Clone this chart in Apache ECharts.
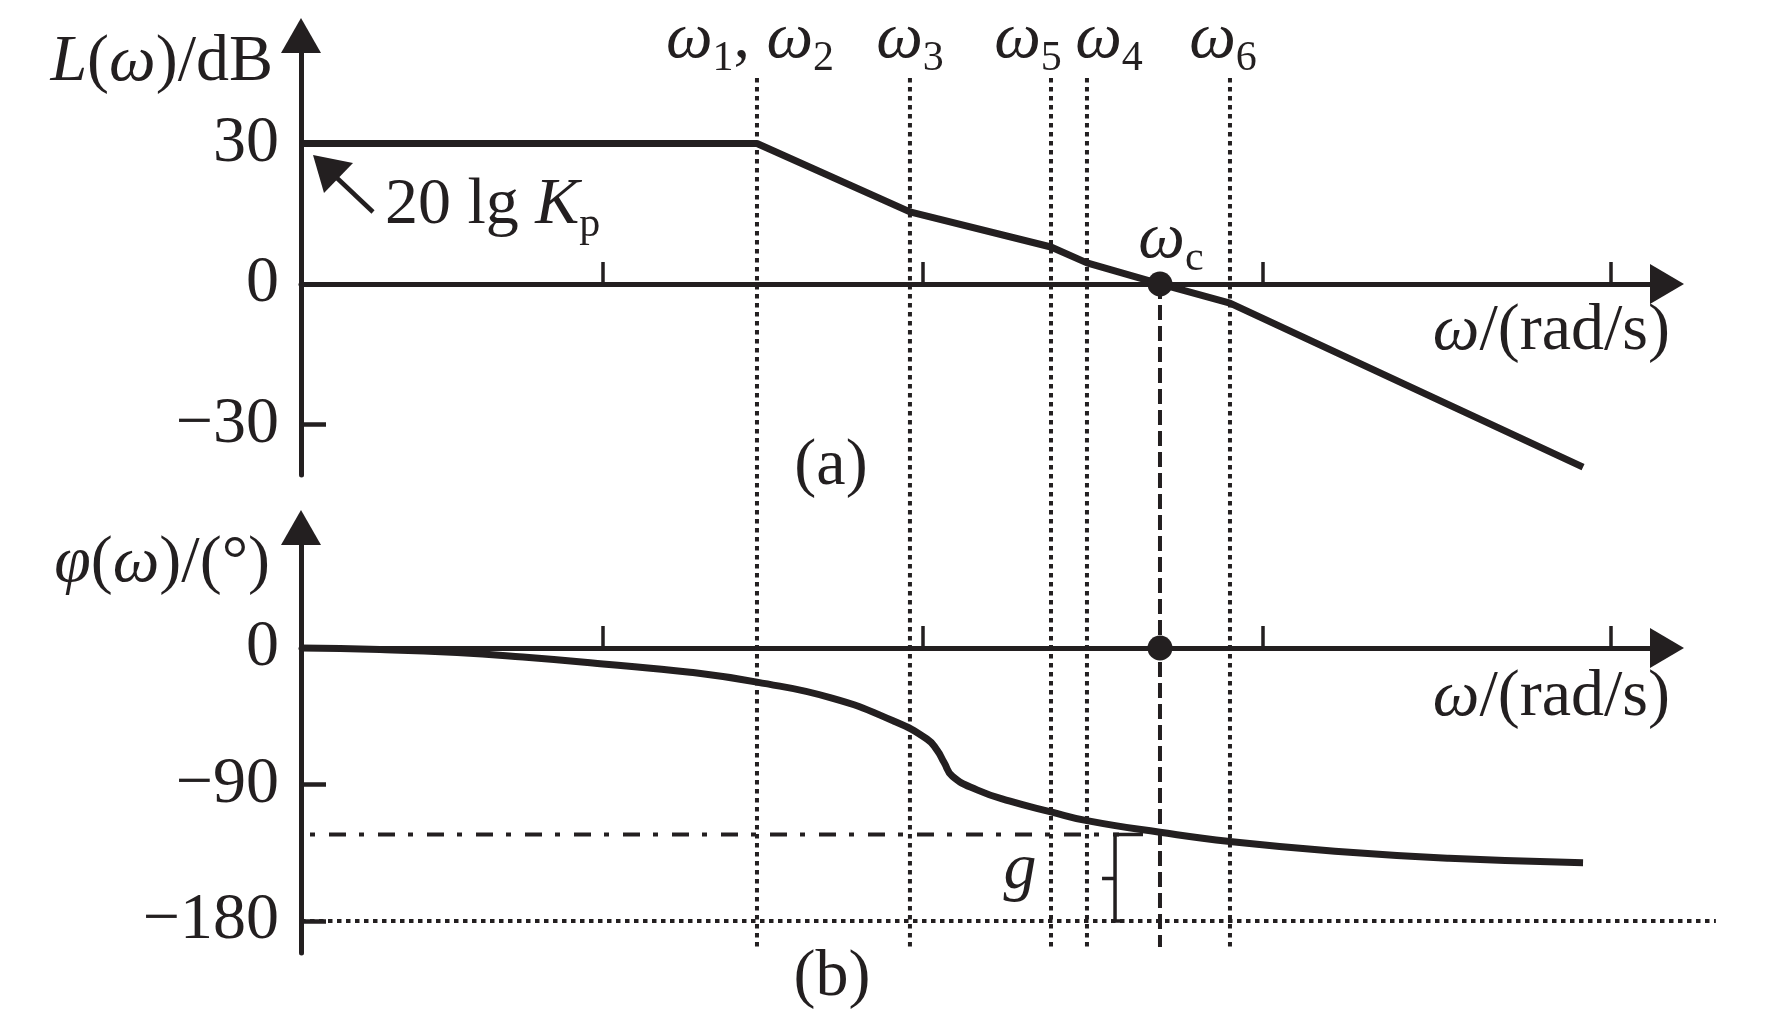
<!DOCTYPE html>
<html><head><meta charset="utf-8">
<script src="https://cdn.jsdelivr.net/npm/echarts@6/dist/echarts.min.js"></script>
<style>html,body{margin:0;padding:0;background:#fff}#c{width:1772px;height:1024px}</style>
</head><body><div id="c"></div>
<script>
// ---------- data (x in relative log-frequency units) ----------
const xTickValues = [21.84, 44.97, 69.56, 94.72];
const breakLabels = ['{w|ω}{s|1}{n|, }{w|ω}{s|2}', '{w|ω}{s|3}', '{w|ω}{s|5}', '{w|ω}{s|4}', '{w|ω}{s|6}'];
const breakX = [32.97, 44.03, 54.23, 56.83, 67.17];
const wcX = 62.11;
const magX = [0, 32.97, 44.03, 54.23, 56.83, 62.11, 67.17, 92.70];
const magDb = [30, 30, 15.4, 7.9, 4.5, 0, -4.1, -39.1];
const phaseX = [0, 5.71, 11.28, 16.05, 21.84, 28.13, 32.97, 38.39, 42.81, 45.26, 46.0, 46.5, 47.1, 48.88, 51.27, 54.23, 56.83, 62.11, 67.17, 74.76, 83.01, 92.70];
const phaseDeg = [0, -1, -3, -6, -10.5, -16, -22.5, -33, -48, -60, -67.5, -75.5, -84.5, -93.5, -101, -108, -113.8, -121.5, -127.6, -134, -138.6, -141.6];
const magTicks = [-30, 0, 30];
const phaseTicks = [-180, -90, 0];
const gmLineX = [0.65, 59.15];
const gmLevel = -123;
const refLineX = [0, 102.3];
const refLevel = -180;
const braceX = [60.88, 58.86, 58.86, 57.92, 58.86, 58.86, 59.29];
const braceY = [-123, -123, -152, -152, -152, -180, -180];

// ---------- style ----------
const INK = '#231f20';
const FONT = 'Liberation Serif';
const FS = 66, SFS = 42;
const labelOffsets = [[-7, -38], [0, -38], [-23, -38], [22, -38], [-7, -38]];
const rich = {
  w: {fontFamily: FONT, fontStyle: 'italic', fontSize: FS, lineHeight: FS, color: INK, verticalAlign: 'middle'},
  i: {fontFamily: FONT, fontStyle: 'italic', fontSize: FS, lineHeight: FS, color: INK, verticalAlign: 'middle'},
  n: {fontFamily: FONT, fontSize: FS, lineHeight: FS, color: INK, verticalAlign: 'middle'},
  s: {fontFamily: FONT, fontSize: SFS, lineHeight: SFS, color: INK, verticalAlign: 'middle', padding: [38, 0, 0, 0]}
};
const XMAX = 98.77;
const XMAX_WIDE = 102.31;

function xAxisDef(gi, show) {
  return {
    gridIndex: gi, type: 'value', min: 0, max: XMAX, show: show,
    splitLine: {show: false},
    axisLine: {show: true, onZero: true, symbol: ['none', 'triangle'], symbolSize: [40, 34],
      lineStyle: {color: INK, width: 5}},
    axisTick: {show: true, inside: true, length: 22, customValues: xTickValues,
      lineStyle: {color: INK, width: 3.5}},
    axisLabel: {show: false}
  };
}
function yAxisDef(gi, min, max, ticks) {
  return {
    gridIndex: gi, type: 'value', min: min, max: max,
    splitLine: {show: false},
    axisLine: {show: true, onZero: false, symbol: ['none', 'triangle'], symbolSize: [40, 35],
      lineStyle: {color: INK, width: 5}},
    axisTick: {show: true, inside: true, length: 25, customValues: ticks,
      lineStyle: {color: INK, width: 4.5}},
    axisLabel: {show: true, customValues: ticks, margin: 22, color: INK,
      fontFamily: FONT, fontSize: FS,
      formatter: v => String(v).replace('-', '\u2212')}
  };
}
const zip = (a, b) => a.map((v, i) => [v, b[i]]);

const series = [];
// vertical dotted lines at break frequencies (overlay grid)
breakX.forEach((x) => {
  series.push({type: 'line', xAxisIndex: 2, yAxisIndex: 2, data: [[x, 0], [x, 1]],
    symbol: 'none', z: 1, silent: true,
    lineStyle: {color: INK, width: 4, type: [4.5, 4.5]}});
});
// labels of break frequencies
series.push({type: 'scatter', xAxisIndex: 2, yAxisIndex: 2, symbolSize: 0, z: 5,
  itemStyle: {opacity: 1},
  data: breakX.map((x, i) => ({value: [x, 0],
    label: {show: true, position: 'inside', offset: labelOffsets[i], color: INK, formatter: breakLabels[i], rich: rich}}))
});
// crossover dashed line
series.push({type: 'line', xAxisIndex: 2, yAxisIndex: 2, data: [[wcX, 0.237], [wcX, 1]],
  symbol: 'none', z: 1, lineStyle: {color: INK, width: 4, type: [15, 6]}});
// magnitude
series.push({type: 'line', xAxisIndex: 0, yAxisIndex: 0, data: zip(magX, magDb), symbol: 'none', z: 3,
  lineStyle: {color: INK, width: 7}});
series.push({type: 'scatter', xAxisIndex: 0, yAxisIndex: 0, data: [[wcX, 0]], symbolSize: 25, z: 4,
  itemStyle: {color: INK, opacity: 1},
  label: {show: true, position: 'inside', offset: [11, -44], color: INK, formatter: '{w|ω}{s|c}', rich: rich}});
// phase
series.push({type: 'line', xAxisIndex: 1, yAxisIndex: 1, data: zip(phaseX, phaseDeg), symbol: 'none', z: 3,
  smooth: 0.5, lineStyle: {color: INK, width: 7}});
series.push({type: 'scatter', xAxisIndex: 1, yAxisIndex: 1, data: [[wcX, 0]], symbolSize: 25, z: 4,
  itemStyle: {color: INK, opacity: 1}});
series.push({type: 'line', xAxisIndex: 1, yAxisIndex: 1, data: gmLineX.map(x => [x, gmLevel]), symbol: 'none', z: 2,
  lineStyle: {color: INK, width: 4, type: [5, 14, 17, 13]}});
series.push({type: 'line', xAxisIndex: 3, yAxisIndex: 3, data: refLineX.map(x => [x, refLevel]), symbol: 'none', z: 2,
  lineStyle: {color: INK, width: 4, type: [4.5, 4.5]}});
series.push({type: 'line', xAxisIndex: 1, yAxisIndex: 1, data: zip(braceX, braceY), symbol: 'none', z: 2,
  lineStyle: {color: INK, width: 3.5, join: 'miter'}});

function txt(text, x, y, align) {
  return {type: 'text', z: 10, style: {text: text, x: x, y: y, align: align, verticalAlign: 'middle',
    fontFamily: FONT, fontSize: FS, fill: INK, rich: rich}};
}

const option = {
  animation: false,
  backgroundColor: '#fff',
  grid: [
    {left: 301, right: 105, top: 35.5, height: 439.5},
    {left: 301, right: 105, top: 527.5, height: 425.5},
    {left: 301, right: 105, top: 78, height: 869},
    {left: 301, right: 56, top: 527.5, height: 425.5}
  ],
  xAxis: [xAxisDef(0, true), xAxisDef(1, true),
    {gridIndex: 2, type: 'value', min: 0, max: XMAX, show: false},
    {gridIndex: 3, type: 'value', min: 0, max: XMAX_WIDE, show: false}],
  yAxis: [yAxisDef(0, -40.79, 53.06, magTicks), yAxisDef(1, -201.05, 79.43, phaseTicks),
    {gridIndex: 2, type: 'value', min: 0, max: 1, inverse: true, show: false},
    {gridIndex: 3, type: 'value', min: -201.05, max: 79.43, show: false}],
  series: series,
  graphic: [
    txt('{i|L}{n|(}{i|ω}{n|)/dB}', 273, 63, 'right'),
    txt('{i|φ}{n|(}{i|ω}{n|)/(°)}', 270, 564, 'right'),
    txt('{n|20 lg }{i|K}{s|p}', 385, 206, 'left'),
    txt('{n|(a)}', 831, 467, 'center'),
    txt('{n|(b)}', 832, 978, 'center'),
    txt('{i|ω}{n|/(rad/s)}', 1670, 332, 'right'),
    txt('{i|ω}{n|/(rad/s)}', 1670, 698, 'right'),
    txt('{i|g}', 1020, 871, 'center'),
    {type: 'polyline', z: 10, shape: {points: [[337, 178], [373, 212]]}, style: {stroke: INK, lineWidth: 4.5, fill: null}},
    {type: 'polygon', z: 10, shape: {points: [[313, 155], [324, 193], [353, 163]]}, style: {fill: INK}}
  ]
};
const chart = echarts.init(document.getElementById('c'), null, {renderer: 'canvas'});
chart.setOption(option);
</script></body></html>
